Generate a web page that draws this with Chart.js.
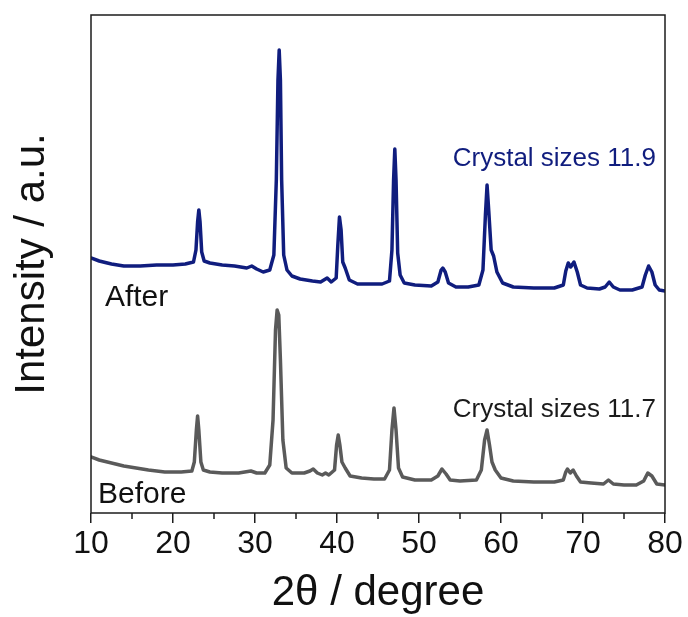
<!DOCTYPE html>
<html>
<head>
<meta charset="utf-8">
<script src="https://cdn.jsdelivr.net/npm/chart.js@4.4.1/dist/chart.umd.min.js"></script>
<style>
  html, body { margin: 0; padding: 0; background: #fff; }
  #wrap { width: 688px; height: 617px; }
</style>
</head>
<body>
<div id="wrap"><canvas id="xrd"></canvas></div>
<script>
// 2theta positions and intensities (arbitrary units)
const afterTheta = [10.0, 11.0, 12.5, 14.0, 16.0, 18.0, 20.0, 21.5, 22.5, 22.8, 23.0, 23.15, 23.3, 23.5, 23.8,
  24.5, 26.0, 27.5, 29.0, 29.6, 30.2, 31.0, 31.8, 32.3, 32.6, 32.8, 32.95, 33.1, 33.25, 33.5, 33.9,
  34.5, 35.5, 37.0, 38.0, 38.8, 39.3, 39.9, 40.1, 40.3, 40.5, 40.7, 41.0, 41.5, 42.5, 44.0, 45.5,
  46.4, 46.7, 46.9, 47.05, 47.2, 47.4, 47.7, 48.2, 49.5, 51.5, 52.3, 52.7, 52.9, 53.2, 53.6, 54.5,
  56.0, 57.3, 57.8, 58.1, 58.3, 58.5, 58.8, 59.1, 59.5, 60.2, 61.5, 64.0, 66.5, 67.6, 67.9, 68.2,
  68.5, 68.9, 69.3, 69.7, 70.5, 72.0, 72.7, 73.2, 73.7, 74.5, 76.0, 77.2, 77.6, 78.0, 78.4, 78.8,
  79.3, 80.0];
const afterIntensity = [255, 252, 249, 247, 247, 248, 248, 249, 251, 263, 291, 303, 291, 261, 252,
  250, 248, 247, 245, 247, 244, 241, 243, 258, 333, 433, 463, 433, 333, 258, 243,
  237, 234, 232, 231, 235, 231, 235, 268, 296, 283, 251, 245, 233, 229, 229, 229,
  232, 263, 333, 364, 333, 260, 238, 230, 228, 227, 231, 243, 245, 241, 230, 226,
  226, 228, 243, 298, 328, 303, 263, 257, 241, 230, 226, 225, 225, 228, 242, 250,
  246, 251, 241, 228, 225, 224, 226, 231, 226, 223, 223, 226, 238, 247, 241, 228,
  223, 222];

const beforeTheta = [10.0, 11.0, 12.5, 14.0, 15.5, 17.0, 19.0, 21.0, 22.3, 22.6, 22.85, 23.0, 23.15, 23.4, 23.7,
  24.5, 26.0, 28.0, 29.5, 30.2, 31.2, 31.8, 32.2, 32.5, 32.7, 32.9, 33.1, 33.4, 33.8, 34.5, 36.0,
  36.7, 37.1, 37.6, 38.2, 38.6, 39.0, 39.7, 39.95, 40.15, 40.35, 40.6, 41.0, 41.6, 43.0, 44.5, 45.8,
  46.4, 46.7, 46.95, 47.2, 47.5, 48.0, 49.5, 51.5, 52.3, 52.8, 53.3, 53.8, 55.0, 57.0, 57.6, 58.0,
  58.3, 58.6, 58.9, 59.3, 60.0, 61.5, 64.0, 66.5, 67.6, 67.9, 68.1, 68.45, 68.8, 69.2, 69.7, 71.0,
  72.5, 73.1, 73.7, 75.0, 76.5, 77.4, 77.9, 78.4, 79.0, 80.0];
const beforeIntensity = [56, 53, 50, 47, 45, 43, 41, 41, 42, 51, 83, 97, 83, 51, 43,
  41, 40, 40, 42, 40, 40, 48, 93, 183, 203, 198, 153, 73, 45, 40, 40,
  42, 44, 40, 38, 40, 38, 43, 68, 78, 68, 51, 45, 37, 35, 34, 34,
  43, 83, 105, 83, 45, 36, 33, 33, 37, 44, 39, 33, 32, 33, 43, 73,
  83, 68, 51, 43, 35, 32, 31, 31, 33, 41, 44, 40, 43, 37, 31, 30,
  29, 33, 29, 28, 28, 32, 40, 37, 29, 28];

const xTicks = [10, 20, 30, 40, 50, 60, 70, 80];
const xMinorTicks = [15, 25, 35, 45, 55, 65, 75];

const FONT = "'Liberation Sans', Arial, sans-serif";
const NAVY = '#101d7e';
const GREY = '#5a5a5a';

// text placed in data units so it moves with the axes
const notes = [
  { text: 'After', x: 11.7, y: 207, align: 'left', color: '#111', size: 30 },
  { text: 'Before', x: 10.85, y: 10, align: 'left', color: '#111', size: 30 },
  { text: 'Crystal sizes 11.9', x: 78.9, y: 347, align: 'right', color: NAVY, size: 26 },
  { text: 'Crystal sizes 11.7', x: 78.9, y: 96, align: 'right', color: '#1a1a1a', size: 26 }
];

const toPoints = (xs, ys) => xs.map((x, i) => ({ x, y: ys[i] }));

const framePlugin = {
  id: 'frame',
  afterDraw(chart) {
    const { ctx, chartArea: a, scales } = chart;
    ctx.save();
    ctx.strokeStyle = '#1c1c1c';
    ctx.lineWidth = 1.5;
    ctx.strokeRect(a.left, a.top, a.right - a.left, a.bottom - a.top);
    // minor ticks
    ctx.beginPath();
    xMinorTicks.forEach(v => {
      const px = scales.x.getPixelForValue(v);
      ctx.moveTo(px, a.bottom);
      ctx.lineTo(px, a.bottom + 6);
    });
    ctx.stroke();
    // annotations
    notes.forEach(n => {
      ctx.font = `${n.size}px ${FONT}`;
      ctx.fillStyle = n.color;
      ctx.textAlign = n.align;
      ctx.textBaseline = 'alphabetic';
      ctx.fillText(n.text, scales.x.getPixelForValue(n.x), scales.y.getPixelForValue(n.y));
    });
    ctx.restore();
  }
};

new Chart(document.getElementById('xrd'), {
  type: 'line',
  data: {
    datasets: [
      {
        label: 'After',
        data: toPoints(afterTheta, afterIntensity),
        borderColor: NAVY,
        borderWidth: 3.5,
        borderJoinStyle: 'round',
        borderCapStyle: 'round',
        pointRadius: 0,
        tension: 0
      },
      {
        label: 'Before',
        data: toPoints(beforeTheta, beforeIntensity),
        borderColor: GREY,
        borderWidth: 3.5,
        borderJoinStyle: 'round',
        borderCapStyle: 'round',
        pointRadius: 0,
        tension: 0
      }
    ]
  },
  options: {
    responsive: true,
    maintainAspectRatio: false,
    animation: false,
    layout: { padding: { top: 15, right: 23, left: 0, bottom: 0 } },
    plugins: {
      legend: { display: false },
      tooltip: { enabled: false }
    },
    scales: {
      x: {
        type: 'linear',
        min: 10,
        max: 80,
        afterFit: (scale) => { scale.height = 104; },
        afterBuildTicks: (scale) => { scale.ticks = xTicks.map(v => ({ value: v })); },
        grid: {
          display: true,
          drawOnChartArea: false,
          drawTicks: true,
          tickLength: 10,
          color: '#1c1c1c',
          lineWidth: 1.5
        },
        border: { display: false },
        ticks: {
          color: '#111',
          font: { family: FONT, size: 32 },
          padding: 2,
          maxRotation: 0
        },
        title: {
          display: true,
          text: '2θ / degree',
          color: '#111',
          font: { family: FONT, size: 42, lineHeight: 1.1 },
          padding: { top: 0, bottom: 0 }
        }
      },
      y: {
        min: 0,
        max: 498,
        afterFit: (scale) => { scale.width = 91; },
        grid: { display: false },
        border: { display: false },
        ticks: { display: false },
        title: {
          display: true,
          text: 'Intensity / a.u.',
          color: '#111',
          font: { family: FONT, size: 42, lineHeight: 1.2 },
          padding: { top: 7, bottom: 0 }
        }
      }
    }
  },
  plugins: [framePlugin]
});
</script>
</body>
</html>
